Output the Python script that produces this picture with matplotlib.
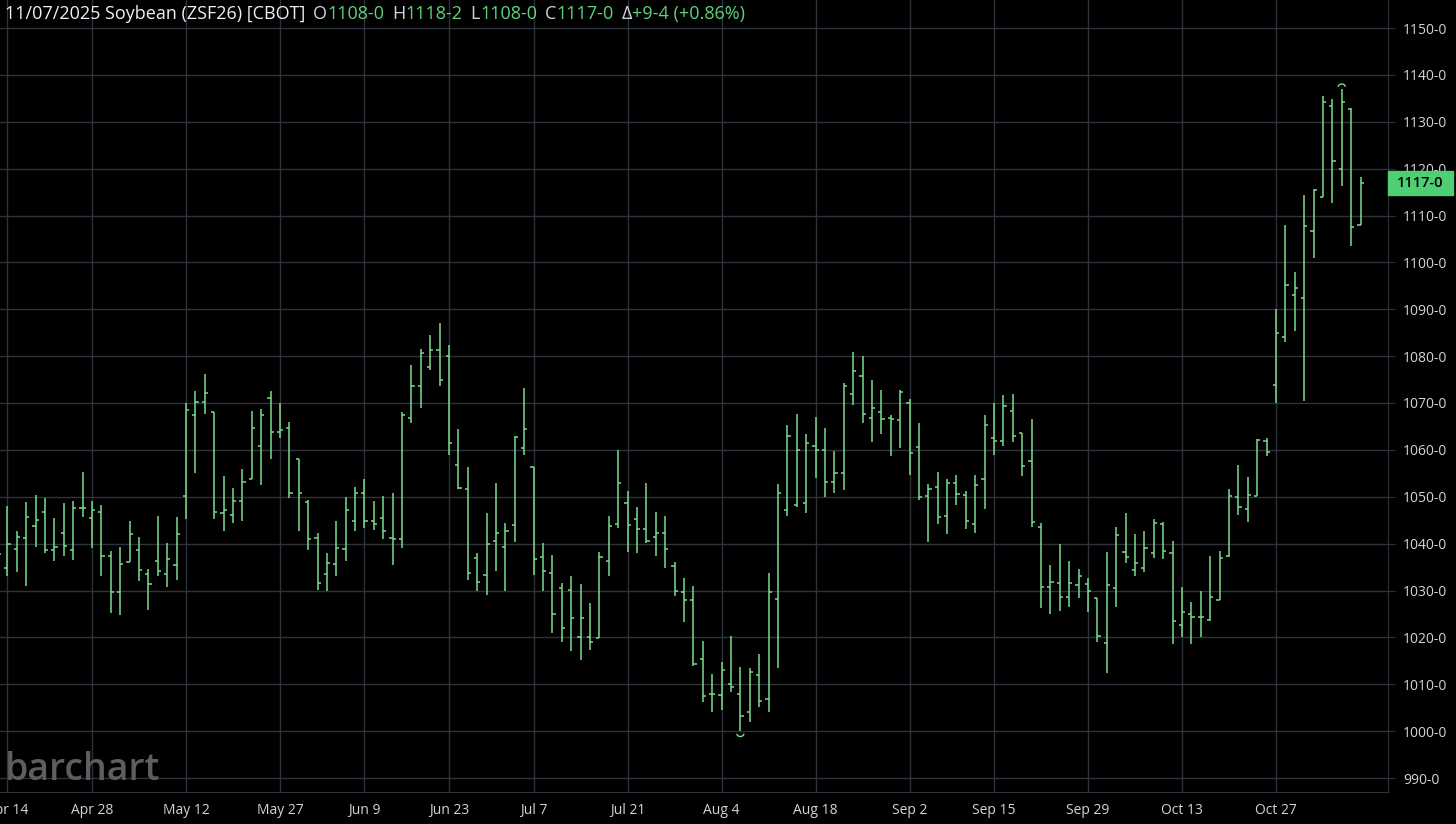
import numpy as np
import pandas as pd
import matplotlib
matplotlib.use("Agg")
import matplotlib.pyplot as plt
from matplotlib.patches import Arc

# ---------------------------------------------------------------------
# ZSF26 daily OHLC (Apr 11 - Nov 7, 2025), cents/bu
# ---------------------------------------------------------------------
opens = [1036.0, 1034.8, 1038.9, 1041.3, 1043.7, 1046.7, 1038.7, 1042.2, 1038.7, 1047.7,
         1045.5, 1046.7, 1037.3, 1029.6, 1036.1, 1038.6, 1033.6, 1036.3, 1033.6, 1035.5,
         1050.1, 1067.5, 1070.3, 1068.0, 1046.6, 1046.1, 1049.0, 1053.8, 1060.9, 1071.0,
         1063.9, 1064.6, 1058.1, 1048.9, 1041.1, 1033.6, 1035.6, 1038.8, 1044.9, 1050.8,
         1044.9, 1045.5, 1041.3, 1041.0, 1066.9, 1073.6, 1077.7, 1081.4, 1080.0, 1056.7,
         1051.6, 1037.0, 1033.3, 1040.5, 1039.3, 1043.9, 1060.4, 1056.3, 1037.2, 1033.8,
         1030.6, 1030.1, 1020.1, 1020.1, 1019.9, 1036.2, 1044.1, 1048.6, 1045.2, 1043.1,
         1041.5, 1042.3, 1035.2, 1029.6, 1027.9, 1015.3, 1008.0, 1007.8, 1010.1, 1008.0,
         1004.0, 1011.9, 1006.8, 1028.1, 1047.2, 1048.2, 1048.6, 1060.9, 1059.9, 1053.1,
         1055.1, 1071.9, 1075.8, 1066.9, 1068.0, 1066.9, 1066.4, 1070.0, 1060.6, 1050.2,
         1052.0, 1045.8, 1052.9, 1050.4, 1044.1, 1053.7, 1062.5, 1061.8, 1068.2, 1063.6,
         1057.7, 1043.6, 1030.7, 1031.5, 1028.7, 1031.2, 1031.4, 1028.3, 1018.9, 1030.6,
         1038.2, 1034.4, 1034.9, 1038.1, 1044.1, 1038.1, 1022.6, 1025.0, 1024.3, 1023.8,
         1028.0, 1037.4, 1050.0, 1047.4, 1050.2, 1061.8, 1073.8, 1084.1, 1093.1, 1092.3,
         1106.6, 1114.0, 1133.3, 1120.0, 1132.8, 1108.0]
highs = [1041.0, 1048.0, 1042.6, 1048.8, 1050.3, 1049.7, 1045.5, 1048.7, 1049.2, 1055.2,
         1049.2, 1048.2, 1038.5, 1039.3, 1044.8, 1041.4, 1034.5, 1046.0, 1040.1, 1045.7,
         1069.9, 1072.5, 1076.2, 1068.0, 1054.5, 1051.8, 1056.0, 1068.2, 1068.7, 1072.5,
         1070.0, 1066.0, 1058.1, 1049.4, 1042.3, 1037.9, 1044.8, 1050.0, 1052.1, 1053.8,
         1049.1, 1050.1, 1050.8, 1068.1, 1078.2, 1081.6, 1084.6, 1087.0, 1082.3, 1064.4,
         1056.3, 1038.1, 1046.6, 1053.0, 1044.3, 1062.9, 1073.3, 1056.3, 1040.1, 1037.5,
         1031.5, 1033.0, 1031.3, 1027.4, 1038.3, 1045.8, 1060.0, 1051.3, 1047.8, 1052.9,
         1046.7, 1045.8, 1036.0, 1032.6, 1031.0, 1019.2, 1012.2, 1014.7, 1020.4, 1013.7,
         1013.5, 1016.4, 1033.8, 1052.7, 1065.3, 1067.6, 1063.3, 1067.0, 1064.6, 1059.7,
         1074.2, 1080.8, 1080.0, 1075.0, 1072.8, 1067.5, 1072.8, 1070.8, 1065.8, 1052.7,
         1055.2, 1053.8, 1054.7, 1051.3, 1054.6, 1067.4, 1070.0, 1071.7, 1071.9, 1063.7,
         1066.6, 1044.3, 1035.4, 1039.9, 1036.4, 1034.6, 1032.7, 1028.5, 1038.3, 1043.6,
         1046.6, 1042.1, 1042.7, 1045.3, 1044.6, 1040.6, 1030.8, 1027.5, 1029.8, 1037.4,
         1038.5, 1051.6, 1056.7, 1054.3, 1062.3, 1062.6, 1090.0, 1108.0, 1098.0, 1114.4,
         1115.6, 1135.6, 1134.9, 1136.9, 1133.0, 1118.25]
lows = [1033.0, 1033.0, 1034.0, 1031.0, 1039.2, 1037.9, 1036.2, 1037.4, 1036.5, 1045.7,
        1039.1, 1033.0, 1025.2, 1024.8, 1036.0, 1032.0, 1025.8, 1033.1, 1030.8, 1032.3,
        1045.3, 1055.0, 1067.7, 1045.3, 1042.6, 1044.3, 1044.8, 1053.7, 1052.6, 1058.1,
        1062.5, 1049.8, 1042.8, 1038.6, 1030.1, 1029.9, 1033.1, 1036.2, 1042.6, 1043.3,
        1043.0, 1041.0, 1035.5, 1039.0, 1065.8, 1069.0, 1077.0, 1073.6, 1058.9, 1051.6,
        1032.2, 1029.9, 1029.1, 1034.1, 1029.9, 1040.4, 1059.0, 1033.3, 1029.9, 1021.0,
        1019.0, 1017.0, 1015.2, 1017.3, 1019.8, 1033.0, 1043.3, 1038.3, 1038.1, 1040.1,
        1037.4, 1034.9, 1028.9, 1023.2, 1014.0, 1006.2, 1004.0, 1004.6, 1008.3, 1000.0,
        1001.9, 1005.1, 1004.0, 1013.5, 1046.0, 1047.9, 1046.5, 1054.0, 1050.0, 1050.8,
        1051.4, 1069.6, 1065.7, 1061.6, 1063.4, 1058.8, 1060.5, 1054.7, 1049.4, 1040.3,
        1044.2, 1042.1, 1048.3, 1043.1, 1042.3, 1047.4, 1058.9, 1060.8, 1061.6, 1054.5,
        1043.5, 1026.2, 1024.9, 1025.7, 1026.4, 1028.3, 1025.5, 1019.1, 1012.5, 1026.5,
        1035.8, 1033.2, 1034.0, 1036.9, 1036.7, 1018.5, 1020.1, 1018.5, 1020.0, 1023.6,
        1028.0, 1037.2, 1046.1, 1044.7, 1050.2, 1058.8, 1070.1, 1083.0, 1085.3, 1070.5,
        1101.0, 1114.0, 1112.6, 1116.3, 1103.6, 1108.0]
closes = [1037.7, 1040.0, 1041.5, 1045.6, 1045.0, 1038.7, 1039.2, 1039.6, 1047.7, 1047.7,
          1047.2, 1037.4, 1029.7, 1035.7, 1042.1, 1034.3, 1031.3, 1034.2, 1036.8, 1042.1,
          1068.6, 1070.3, 1072.1, 1046.7, 1047.1, 1049.0, 1053.1, 1064.6, 1067.5, 1063.8,
          1064.3, 1050.8, 1050.8, 1040.9, 1031.6, 1035.9, 1039.1, 1047.1, 1050.8, 1044.8,
          1044.2, 1042.8, 1041.0, 1067.4, 1073.6, 1080.7, 1081.4, 1074.9, 1061.4, 1051.9,
          1033.8, 1031.8, 1039.9, 1042.3, 1042.8, 1062.7, 1064.5, 1036.8, 1034.1, 1025.0,
          1022.0, 1024.1, 1024.1, 1019.1, 1037.2, 1043.8, 1053.0, 1044.0, 1043.1, 1040.6,
          1042.2, 1038.9, 1029.8, 1028.0, 1014.4, 1007.6, 1008.0, 1013.0, 1009.4, 1003.3,
          1012.6, 1006.5, 1029.7, 1050.9, 1062.9, 1060.0, 1061.5, 1059.9, 1053.1, 1055.1,
          1073.6, 1076.8, 1067.6, 1069.0, 1066.6, 1066.6, 1072.3, 1059.3, 1050.0, 1051.7,
          1045.6, 1052.9, 1050.6, 1044.8, 1052.5, 1065.3, 1061.8, 1069.3, 1063.0, 1056.5,
          1044.7, 1030.7, 1031.9, 1028.7, 1031.5, 1033.2, 1029.9, 1020.3, 1031.2, 1041.9,
          1037.2, 1035.9, 1039.1, 1044.3, 1038.5, 1023.5, 1025.5, 1024.4, 1024.3, 1028.7,
          1036.9, 1050.2, 1047.9, 1050.4, 1062.1, 1059.5, 1085.0, 1095.2, 1094.5, 1107.8,
          1115.4, 1134.2, 1121.6, 1134.3, 1107.6, 1117.0]

# trading calendar (CBOT closed on these days)
holidays = ["2025-04-18", "2025-05-26", "2025-06-19", "2025-07-04", "2025-09-01"]
dates = pd.bdate_range("2025-04-11", "2025-11-07")
dates = dates[~dates.isin(pd.to_datetime(holidays))]

tick_dates = ["2025-04-14", "2025-04-28", "2025-05-12", "2025-05-27", "2025-06-09",
              "2025-06-23", "2025-07-07", "2025-07-21", "2025-08-04", "2025-08-18",
              "2025-09-02", "2025-09-15", "2025-09-29", "2025-10-13", "2025-10-27"]

price_ticks = list(range(990, 1151, 10))

# ---------------------------------------------------------------------
BG = "#000000"
GRID = "#2e323c"
TXT = "#d1d4dc"
TITLE = "#f0f0f0"
GREEN = "#7ddc8e"
HDR_GREEN = "#5fd27a"

W, H = 1456, 824
fig = plt.figure(figsize=(W / 100, H / 100), dpi=100, facecolor=BG)
plt.rcParams["font.family"] = ["Open Sans", "DejaVu Sans"]

# plot area: x 0..1388 px, y 0..792 px
ax = fig.add_axes([0, 32 / H, 1388 / W, 792 / H], facecolor=BG)

x = np.arange(len(dates)) - 1   # Apr 11 sits just left of the frame
x_of = {d: i for d, i in zip(dates.strftime("%Y-%m-%d"), x)}

tick_w = 0.34
ax.vlines(x, lows, highs, color=GREEN, lw=1.1, zorder=3)
ax.hlines(opens, x - tick_w, x, color=GREEN, lw=1.1, zorder=3)
ax.hlines(closes, x, x + tick_w, color=GREEN, lw=1.1, zorder=3)

px_per_bar = 9.397
ax.set_xlim(-7.4 / px_per_bar, (1388 - 7.4) / px_per_bar)
px_per_pt = 4.6875
ax.set_ylim(1150 - 764 / px_per_pt, 1150 + 28 / px_per_pt)

# swing high / low markers
hi_i = int(np.argmax(highs))
lo_i = int(np.argmin(lows))
ax.add_patch(Arc((x[hi_i], highs[hi_i] + 0.55), 0.75, 1.2, theta1=0, theta2=180,
                 color=GREEN, lw=1.0, zorder=4))
ax.add_patch(Arc((x[lo_i], lows[lo_i] - 0.55), 0.75, 1.2, theta1=180, theta2=360,
                 color=GREEN, lw=1.0, zorder=4))

# grid
xt = [x_of[d] for d in tick_dates]
ax.set_xticks(xt)
ax.set_xticklabels([pd.Timestamp(d).strftime("%b %-d") for d in tick_dates])
ax.set_yticks(price_ticks)
ax.set_yticklabels([f"{p}-0" for p in price_ticks])
ax.grid(True, color=GRID, lw=1.0, zorder=0)
ax.yaxis.tick_right()
ax.tick_params(axis="y", colors=GRID, labelcolor=TXT, labelsize=10, length=5, pad=6)
ax.tick_params(axis="x", colors=GRID, labelcolor=TXT, labelsize=10, length=0, pad=8)
for side, sp in ax.spines.items():
    sp.set_color(GRID)
    sp.set_visible(side in ("right", "bottom"))

# last price tag
last = closes[-1]
y_tag = ax.transData.transform((0, last))[1]
fig.patches.append(plt.Rectangle((1388 / W, (y_tag - 12) / H), 65 / W, 24 / H,
                                 transform=fig.transFigure, color="#4fcf74", zorder=5))
fig.text(1420 / W, y_tag / H, f"{int(last)}-0", color="#000000", fontsize=10.5,
         fontweight="semibold", ha="center", va="center", zorder=6)

# header line, drawn piece by piece (text, colour, gap after in px)
pieces = [("11/07/2025 Soybean (ZSF26) [CBOT]", TITLE, 8),
          ("O", TXT, 0), ("1108-0", HDR_GREEN, 8),
          ("H", TXT, 0), ("1118-2", HDR_GREEN, 8),
          ("L", TXT, 0), ("1108-0", HDR_GREEN, 8),
          ("C", TXT, 0), ("1117-0", HDR_GREEN, 8),
          ("\u0394", TXT, 0), ("+9-4 (+0.86%)", HDR_GREEN, 0)]
renderer = fig.canvas.get_renderer()
cur = 5
for s, c, gap in pieces:
    t = fig.text(cur / W, 1 - 14 / H, s, color=c, fontsize=13, va="center", ha="left")
    bb = t.get_window_extent(renderer=renderer)
    cur += bb.width + gap

# watermark
fig.text(5 / W, 1 - 770 / H, "barchart", color="#5e5e5e", fontsize=27,
         fontweight="semibold", va="center", ha="left", zorder=6)

fig.savefig("out.png", dpi=100, facecolor=BG)
